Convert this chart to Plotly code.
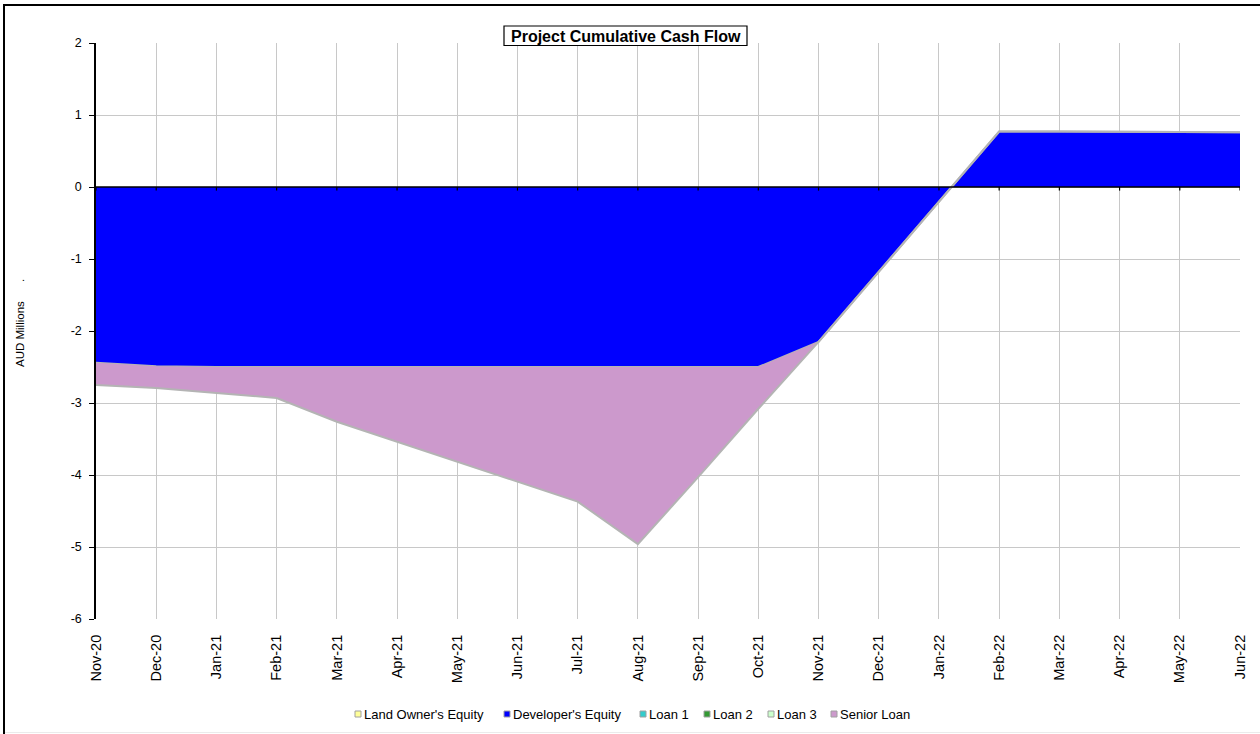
import plotly.graph_objects as go

# ---------------- data ----------------
months = ["Nov-20", "Dec-20", "Jan-21", "Feb-21", "Mar-21", "Apr-21", "May-21", "Jun-21",
          "Jul-21", "Aug-21", "Sep-21", "Oct-21", "Nov-21", "Dec-21", "Jan-22", "Feb-22",
          "Mar-22", "Apr-22", "May-22", "Jun-22"]
land_owner_equity = [0.0] * 20
developer_equity = [-2.44, -2.49, -2.50, -2.50, -2.50, -2.50, -2.50, -2.50, -2.50, -2.50,
                    -2.50, -2.50, -2.15, -1.18, -0.21, 0.77, 0.77, 0.77, 0.76, 0.76]
loan_1 = [0.0] * 20
loan_2 = [0.0] * 20
loan_3 = [0.0] * 20
senior_loan = [-0.31, -0.30, -0.36, -0.43, -0.76, -1.04, -1.32, -1.59, -1.87, -2.46,
               -1.53, -0.58, 0.0, 0.0, 0.0, 0.0, 0.0, 0.0, 0.0, 0.0]

series_names = ["Land Owner's Equity", "Developer's Equity", "Loan 1", "Loan 2", "Loan 3", "Senior Loan"]
series_values = [land_owner_equity, developer_equity, loan_1, loan_2, loan_3, senior_loan]
series_colors = ["#FFFF99", "#0000FF", "#33CCCC", "#339933", "#CCFFCC", "#CC99CC"]
y_ticks = [2, 1, 0, -1, -2, -3, -4, -5, -6]

# ---------------- geometry helpers (layout only) ----------------
W, H = 1260, 734
L, R, T, B = 96, 20, 43, 115
PW, PH = W - L - R, H - T - B


def px_x(px):
    return (px - L) / PW


def px_y(py):
    return (H - B - py) / PH


FONT = "Liberation Sans, Arial"
fig = go.Figure()

# stacked areas
cum = [0.0] * len(months)
for i, (name, vals, col) in enumerate(zip(series_names, series_values, series_colors)):
    cum = [c + v for c, v in zip(cum, vals)]
    visible_edge = any(abs(v) > 1e-9 for v in vals)
    fig.add_trace(go.Scatter(
        x=months, y=cum, mode="lines", name=name,
        fill="tozeroy" if i == 0 else "tonexty",
        fillcolor=col if visible_edge else "rgba(0,0,0,0)",
        line=dict(color="#B4B4B4" if visible_edge else "rgba(0,0,0,0)", width=2 if visible_edge else 0),
        showlegend=False, hoverinfo="skip",
    ))

# category-axis tick marks sitting on the zero line (Excel style)
fig.add_trace(go.Scatter(
    x=months, y=[0] * len(months), mode="markers",
    marker=dict(size=1, opacity=0),
    error_y=dict(type="data", symmetric=False, array=[0] * len(months),
                 arrayminus=[0.05] * len(months), width=0, thickness=1.2, color="black"),
    showlegend=False, hoverinfo="skip",
))

shapes = []
# zero axis line on top
shapes.append(dict(type="line", xref="paper", yref="y", x0=0, x1=1, y0=0, y1=0,
                   line=dict(color="black", width=1.5), layer="above"))
# outer chart border (left & top visible)
shapes.append(dict(type="line", xref="paper", yref="paper", x0=px_x(4), x1=px_x(4),
                   y0=px_y(4), y1=px_y(760), line=dict(color="black", width=2)))
shapes.append(dict(type="line", xref="paper", yref="paper", x0=px_x(4), x1=px_x(1300),
                   y0=px_y(5), y1=px_y(5), line=dict(color="black", width=2)))
shapes.append(dict(type="line", xref="paper", yref="paper", x0=px_x(5), x1=px_x(1300),
                   y0=px_y(732.5), y1=px_y(732.5), line=dict(color="#EBEBEB", width=1)))
# title box
shapes.append(dict(type="rect", xref="paper", yref="paper", x0=px_x(504), x1=px_x(747),
                   y0=px_y(45.5), y1=px_y(26), line=dict(color="black", width=1.2),
                   fillcolor="white", layer="above"))

annotations = []
annotations.append(dict(text="<b>Project Cumulative Cash Flow</b>", xref="paper", yref="paper",
                        x=px_x(625.5), y=px_y(36), xanchor="center", yanchor="middle",
                        showarrow=False, font=dict(family=FONT, size=16, color="black")))
annotations.append(dict(text="AUD Millions" + "\u00a0" * 6 + ".", xref="paper", yref="paper",
                        x=px_x(20), y=px_y(323), xanchor="center", yanchor="middle",
                        textangle=-90, showarrow=False,
                        font=dict(family=FONT, size=11.5, color="black")))

# custom compact legend
legend_marker_px = [355, 504, 640, 704, 768, 831]
legend_text_px = [362, 511, 647, 711, 775, 838]
ly = 714
for name, col, mx, tx in zip(series_names, series_colors, legend_marker_px, legend_text_px):
    shapes.append(dict(type="rect", xref="paper", yref="paper", x0=px_x(mx), x1=px_x(mx + 6),
                       y0=px_y(ly + 3), y1=px_y(ly - 3), fillcolor=col,
                       line=dict(color="#A0A0A0", width=1)))
    annotations.append(dict(text=name, xref="paper", yref="paper", x=px_x(tx), y=px_y(ly),
                            xanchor="left", yanchor="middle", showarrow=False,
                            font=dict(family=FONT, size=13, color="black")))

fig.update_layout(
    width=W, height=H, autosize=False,
    margin=dict(l=L, r=R, t=T, b=B, pad=0),
    paper_bgcolor="white", plot_bgcolor="white",
    font=dict(family=FONT, color="black"),
    showlegend=False,
    shapes=shapes, annotations=annotations,
    xaxis=dict(type="category", categoryorder="array", categoryarray=months,
               range=[0, len(months) - 1], showgrid=True, gridcolor="#C8C8C8", gridwidth=1,
               zeroline=False, showline=False, tickangle=-90,
               ticks="outside", ticklen=9, tickcolor="rgba(0,0,0,0)",
               tickfont=dict(size=14.5, color="black")),
    yaxis=dict(range=[-6, 2], tickvals=y_ticks, ticktext=[str(v) for v in y_ticks],
               showgrid=True, gridcolor="#C8C8C8", gridwidth=1, zeroline=False,
               showline=True, linecolor="black", linewidth=1.5,
               ticks="outside", ticklen=5, tickcolor="black", ticklabelstandoff=5,
               tickfont=dict(size=12.5, color="black")),
)

fig.write_html("out.html")
